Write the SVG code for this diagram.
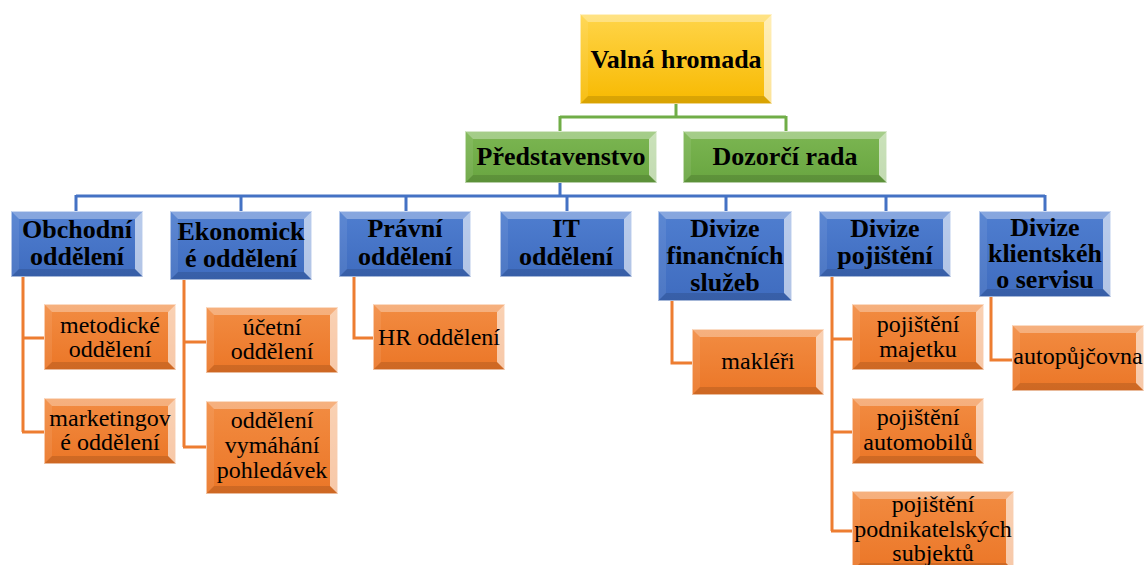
<svg xmlns="http://www.w3.org/2000/svg" width="1145" height="565" viewBox="0 0 1145 565" font-family="Liberation Serif, serif">
<defs>
<linearGradient id="gY" x1="0" y1="0" x2="0" y2="1"><stop offset="0" stop-color="#FFD54A"/><stop offset="1" stop-color="#F7B900"/></linearGradient>
<linearGradient id="gG" x1="0" y1="0" x2="0" y2="1"><stop offset="0" stop-color="#7CB652"/><stop offset="1" stop-color="#68A540"/></linearGradient>
<linearGradient id="gB" x1="0" y1="0" x2="0" y2="1"><stop offset="0" stop-color="#4F7ED0"/><stop offset="1" stop-color="#3F6CBF"/></linearGradient>
<linearGradient id="gO" x1="0" y1="0" x2="0" y2="1"><stop offset="0" stop-color="#F28C42"/><stop offset="1" stop-color="#EB7627"/></linearGradient>
</defs>
<style>
.y .f{fill:url(#gY)} .g .f{fill:url(#gG)} .b .f{fill:url(#gB)} .o .f{fill:url(#gO)}
.t{fill:#fff;fill-opacity:.32}
.r{fill:#fff;fill-opacity:.6}
.bt{fill:#000;fill-opacity:.12}
.l{fill:#fff;fill-opacity:.08}
.ol{fill:none;stroke:#fff;stroke-opacity:.55;stroke-width:1}
text{text-anchor:middle;fill:#000}
.hd{font-weight:bold;font-size:26px}
.sm{font-size:24px}
.con{fill:none;stroke-width:3}
.cg{stroke:#70AD47}.cb{stroke:#4472C4}.co{stroke:#ED7D31}
</style>
<g id="connectors">
<path class="con cg" d="M676 104V117M560 117H786M560 116V131M786 116V131"/>
<path class="con cb" d="M560 183V196M76 196H1045M76 195V211M241 195V211M406 195V211M567 195V211M726 195V211M886 195V211M1045 195V211"/>
<path class="con co" d="M23 277V432M23 338H44M22 432H44M184 280V447M184 342H206M183 447H206M354 277V338H373M672 301V363H692M832 277V531M832 339H852M832 432H852M831 531H852M991 297V360H1012"/>
</g>

<g id="valna" class="y" transform="translate(580,14)">
<rect class="f" width="192" height="90"/>
<polygon class="t" points="0,0 192,0 184,8 8,8"/><polygon class="r" points="192,0 192,90 184,82 184,8"/><polygon class="bt" points="0,90 192,90 184,82 8,82"/><polygon class="l" points="0,0 8,8 8,82 0,90"/>
<rect class="ol" x="0.5" y="0.5" width="191" height="89"/>
<text class="hd" x="96" y="54" font-family="Liberation Serif, serif">Valná hromada</text>
</g>

<g id="predstavenstvo" class="g" transform="translate(465,131)">
<rect class="f" width="192" height="52"/>
<polygon class="t" points="0,0 192,0 184,8 8,8"/><polygon class="r" points="192,0 192,52 184,44 184,8"/><polygon class="bt" points="0,52 192,52 184,44 8,44"/><polygon class="l" points="0,0 8,8 8,44 0,52"/>
<rect class="ol" x="0.5" y="0.5" width="191" height="51"/>
<text class="hd" x="96" y="34" font-family="Liberation Serif, serif">Představenstvo</text>
</g>

<g id="dozorci" class="g" transform="translate(683,131)">
<rect class="f" width="204" height="52"/>
<polygon class="t" points="0,0 204,0 196,8 8,8"/><polygon class="r" points="204,0 204,52 196,44 196,8"/><polygon class="bt" points="0,52 204,52 196,44 8,44"/><polygon class="l" points="0,0 8,8 8,44 0,52"/>
<rect class="ol" x="0.5" y="0.5" width="203" height="51"/>
<text class="hd" x="102" y="34" font-family="Liberation Serif, serif">Dozorčí rada</text>
</g>

<g id="obchodni" class="b" transform="translate(11,211)">
<rect class="f" width="132" height="66"/>
<polygon class="t" points="0,0 132,0 124,8 8,8"/><polygon class="r" points="132,0 132,66 124,58 124,8"/><polygon class="bt" points="0,66 132,66 124,58 8,58"/><polygon class="l" points="0,0 8,8 8,58 0,66"/>
<rect class="ol" x="0.5" y="0.5" width="131" height="65"/>
<text class="hd" x="66" font-family="Liberation Serif, serif"><tspan x="66" y="27">Obchodní</tspan><tspan x="66" y="54">oddělení</tspan></text>
</g>

<g id="ekonomicke" class="b" transform="translate(170,211)">
<rect class="f" width="142" height="69"/>
<polygon class="t" points="0,0 142,0 134,8 8,8"/><polygon class="r" points="142,0 142,69 134,61 134,8"/><polygon class="bt" points="0,69 142,69 134,61 8,61"/><polygon class="l" points="0,0 8,8 8,61 0,69"/>
<rect class="ol" x="0.5" y="0.5" width="141" height="68"/>
<text class="hd" x="71" font-family="Liberation Serif, serif"><tspan x="71" y="29">Ekonomick</tspan><tspan x="71" y="56">é oddělení</tspan></text>
</g>

<g id="pravni" class="b" transform="translate(339,211)">
<rect class="f" width="132" height="66"/>
<polygon class="t" points="0,0 132,0 124,8 8,8"/><polygon class="r" points="132,0 132,66 124,58 124,8"/><polygon class="bt" points="0,66 132,66 124,58 8,58"/><polygon class="l" points="0,0 8,8 8,58 0,66"/>
<rect class="ol" x="0.5" y="0.5" width="131" height="65"/>
<text class="hd" x="66" font-family="Liberation Serif, serif"><tspan x="66" y="26">Právní</tspan><tspan x="66" y="54">oddělení</tspan></text>
</g>

<g id="it" class="b" transform="translate(500,211)">
<rect class="f" width="132" height="66"/>
<polygon class="t" points="0,0 132,0 124,8 8,8"/><polygon class="r" points="132,0 132,66 124,58 124,8"/><polygon class="bt" points="0,66 132,66 124,58 8,58"/><polygon class="l" points="0,0 8,8 8,58 0,66"/>
<rect class="ol" x="0.5" y="0.5" width="131" height="65"/>
<text class="hd" x="66" font-family="Liberation Serif, serif"><tspan x="66" y="26">IT</tspan><tspan x="66" y="54">oddělení</tspan></text>
</g>

<g id="financni" class="b" transform="translate(658,211)">
<rect class="f" width="134" height="90"/>
<polygon class="t" points="0,0 134,0 126,8 8,8"/><polygon class="r" points="134,0 134,90 126,82 126,8"/><polygon class="bt" points="0,90 134,90 126,82 8,82"/><polygon class="l" points="0,0 8,8 8,82 0,90"/>
<rect class="ol" x="0.5" y="0.5" width="133" height="89"/>
<text class="hd" x="67" font-family="Liberation Serif, serif"><tspan x="67" y="26">Divize</tspan><tspan x="67" y="53">finančních</tspan><tspan x="67" y="80">služeb</tspan></text>
</g>

<g id="pojisteni" class="b" transform="translate(819,211)">
<rect class="f" width="132" height="66"/>
<polygon class="t" points="0,0 132,0 124,8 8,8"/><polygon class="r" points="132,0 132,66 124,58 124,8"/><polygon class="bt" points="0,66 132,66 124,58 8,58"/><polygon class="l" points="0,0 8,8 8,58 0,66"/>
<rect class="ol" x="0.5" y="0.5" width="131" height="65"/>
<text class="hd" x="66" font-family="Liberation Serif, serif"><tspan x="66" y="26">Divize</tspan><tspan x="66" y="53">pojištění</tspan></text>
</g>

<g id="klientske" class="b" transform="translate(979,211)">
<rect class="f" width="132" height="86"/>
<polygon class="t" points="0,0 132,0 124,8 8,8"/><polygon class="r" points="132,0 132,86 124,78 124,8"/><polygon class="bt" points="0,86 132,86 124,78 8,78"/><polygon class="l" points="0,0 8,8 8,78 0,86"/>
<rect class="ol" x="0.5" y="0.5" width="131" height="85"/>
<text class="hd" x="66" font-family="Liberation Serif, serif"><tspan x="66" y="25">Divize</tspan><tspan x="66" y="51">klientskéh</tspan><tspan x="66" y="77">o servisu</tspan></text>
</g>

<g id="metodicke" class="o" transform="translate(44,304)">
<rect class="f" width="132" height="66"/>
<polygon class="t" points="0,0 132,0 124,8 8,8"/><polygon class="r" points="132,0 132,66 124,58 124,8"/><polygon class="bt" points="0,66 132,66 124,58 8,58"/><polygon class="l" points="0,0 8,8 8,58 0,66"/>
<rect class="ol" x="0.5" y="0.5" width="131" height="65"/>
<text class="sm" x="66" font-family="Liberation Serif, serif"><tspan x="66" y="29">metodické</tspan><tspan x="66" y="53">oddělení</tspan></text>
</g>

<g id="marketingove" class="o" transform="translate(44,398)">
<rect class="f" width="132" height="66"/>
<polygon class="t" points="0,0 132,0 124,8 8,8"/><polygon class="r" points="132,0 132,66 124,58 124,8"/><polygon class="bt" points="0,66 132,66 124,58 8,58"/><polygon class="l" points="0,0 8,8 8,58 0,66"/>
<rect class="ol" x="0.5" y="0.5" width="131" height="65"/>
<text class="sm" x="66" font-family="Liberation Serif, serif"><tspan x="66" y="28">marketingov</tspan><tspan x="66" y="52">é oddělení</tspan></text>
</g>

<g id="ucetni" class="o" transform="translate(206,307)">
<rect class="f" width="132" height="66"/>
<polygon class="t" points="0,0 132,0 124,8 8,8"/><polygon class="r" points="132,0 132,66 124,58 124,8"/><polygon class="bt" points="0,66 132,66 124,58 8,58"/><polygon class="l" points="0,0 8,8 8,58 0,66"/>
<rect class="ol" x="0.5" y="0.5" width="131" height="65"/>
<text class="sm" x="66" font-family="Liberation Serif, serif"><tspan x="66" y="28">účetní</tspan><tspan x="66" y="52">oddělení</tspan></text>
</g>

<g id="vymahani" class="o" transform="translate(206,401)">
<rect class="f" width="132" height="93"/>
<polygon class="t" points="0,0 132,0 124,8 8,8"/><polygon class="r" points="132,0 132,93 124,85 124,8"/><polygon class="bt" points="0,93 132,93 124,85 8,85"/><polygon class="l" points="0,0 8,8 8,85 0,93"/>
<rect class="ol" x="0.5" y="0.5" width="131" height="92"/>
<text class="sm" x="66" font-family="Liberation Serif, serif"><tspan x="66" y="27">oddělení</tspan><tspan x="66" y="52">vymáhání</tspan><tspan x="66" y="77">pohledávek</tspan></text>
</g>

<g id="hr" class="o" transform="translate(373,304)">
<rect class="f" width="132" height="66"/>
<polygon class="t" points="0,0 132,0 124,8 8,8"/><polygon class="r" points="132,0 132,66 124,58 124,8"/><polygon class="bt" points="0,66 132,66 124,58 8,58"/><polygon class="l" points="0,0 8,8 8,58 0,66"/>
<rect class="ol" x="0.5" y="0.5" width="131" height="65"/>
<text class="sm" x="66" y="41" font-family="Liberation Serif, serif">HR oddělení</text>
</g>

<g id="makleri" class="o" transform="translate(692,329)">
<rect class="f" width="132" height="66"/>
<polygon class="t" points="0,0 132,0 124,8 8,8"/><polygon class="r" points="132,0 132,66 124,58 124,8"/><polygon class="bt" points="0,66 132,66 124,58 8,58"/><polygon class="l" points="0,0 8,8 8,58 0,66"/>
<rect class="ol" x="0.5" y="0.5" width="131" height="65"/>
<text class="sm" x="66" y="40" font-family="Liberation Serif, serif">makléři</text>
</g>

<g id="majetku" class="o" transform="translate(852,304)">
<rect class="f" width="132" height="66"/>
<polygon class="t" points="0,0 132,0 124,8 8,8"/><polygon class="r" points="132,0 132,66 124,58 124,8"/><polygon class="bt" points="0,66 132,66 124,58 8,58"/><polygon class="l" points="0,0 8,8 8,58 0,66"/>
<rect class="ol" x="0.5" y="0.5" width="131" height="65"/>
<text class="sm" x="66" font-family="Liberation Serif, serif"><tspan x="66" y="28">pojištění</tspan><tspan x="66" y="53">majetku</tspan></text>
</g>

<g id="automobilu" class="o" transform="translate(852,398)">
<rect class="f" width="132" height="66"/>
<polygon class="t" points="0,0 132,0 124,8 8,8"/><polygon class="r" points="132,0 132,66 124,58 124,8"/><polygon class="bt" points="0,66 132,66 124,58 8,58"/><polygon class="l" points="0,0 8,8 8,58 0,66"/>
<rect class="ol" x="0.5" y="0.5" width="131" height="65"/>
<text class="sm" x="66" font-family="Liberation Serif, serif"><tspan x="66" y="27">pojištění</tspan><tspan x="66" y="52">automobilů</tspan></text>
</g>

<g id="podnikatelskych" class="o" transform="translate(852,491)">
<rect class="f" width="162" height="80"/>
<polygon class="t" points="0,0 162,0 154,8 8,8"/><polygon class="r" points="162,0 162,80 154,72 154,8"/><polygon class="bt" points="0,80 162,80 154,72 8,72"/><polygon class="l" points="0,0 8,8 8,72 0,80"/>
<rect class="ol" x="0.5" y="0.5" width="161" height="79"/>
<text class="sm" x="81" font-family="Liberation Serif, serif"><tspan x="81" y="21">pojištění</tspan><tspan x="81" y="46">podnikatelských</tspan><tspan x="81" y="70">subjektů</tspan></text>
</g>

<g id="autopujcovna" class="o" transform="translate(1012,325)">
<rect class="f" width="132" height="66"/>
<polygon class="t" points="0,0 132,0 124,8 8,8"/><polygon class="r" points="132,0 132,66 124,58 124,8"/><polygon class="bt" points="0,66 132,66 124,58 8,58"/><polygon class="l" points="0,0 8,8 8,58 0,66"/>
<rect class="ol" x="0.5" y="0.5" width="131" height="65"/>
<text class="sm" x="66" y="39" font-family="Liberation Serif, serif">autopůjčovna</text>
</g>
</svg>
